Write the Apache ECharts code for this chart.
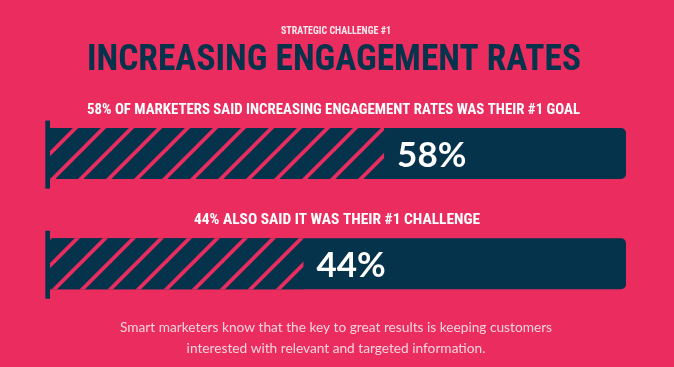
<!DOCTYPE html>
<html>
<head>
<meta charset="utf-8">
<script src="https://cdn.jsdelivr.net/npm/echarts@6/dist/echarts.min.js"></script>
<style>
  html, body { margin: 0; padding: 0; background: #EA2C5F; }
  #chart { width: 674px; height: 367px; }
</style>
</head>
<body>
<div id="chart"></div>
<script>
// ---- data ----
const categories = ['Goal', 'Challenge'];
const values = [58, 44];
const kicker = 'STRATEGIC CHALLENGE #1';
const headline = 'INCREASING ENGAGEMENT RATES';
const barHeadings = [
  '58% OF MARKETERS SAID INCREASING ENGAGEMENT RATES WAS THEIR #1 GOAL',
  '44% ALSO SAID IT WAS THEIR #1 CHALLENGE'
];
const footerLines = [
  'Smart marketers know that the key to great results is keeping customers',
  'interested with relevant and targeted information.'
];

// ---- styles ----
const PINK = '#EA2C5F';
const NAVY = '#06334C';
const CONDENSED = "'Roboto Condensed', 'DejaVu Sans Condensed', sans-serif";

// hatch pattern
function makeHatch() {
  const c = document.createElement('canvas');
  c.width = 28; c.height = 28;
  const g = c.getContext('2d');
  g.fillStyle = NAVY;
  g.fillRect(0, 0, 28, 28);
  g.strokeStyle = PINK;
  g.lineWidth = 3.8;
  [7.6, 35.6].forEach(k => {
    g.beginPath();
    g.moveTo(-12, k + 12);
    g.lineTo(k + 12, -12);
    g.stroke();
  });
  return c;
}

// measure to condense text horizontally
const mctx = document.createElement('canvas').getContext('2d');
function condensedText(text, cx, cy, size, targetWidth, fill) {
  const font = 'bold ' + size + 'px ' + CONDENSED;
  mctx.font = font;
  const w = mctx.measureText(text).width;
  return {
    type: 'text',
    x: cx, y: cy,
    scaleX: targetWidth / w,
    silent: true,
    style: {
      text: text,
      font: font,
      fill: fill,
      align: 'center',
      verticalAlign: 'middle'
    }
  };
}

const chart = echarts.init(document.getElementById('chart'), null, { renderer: 'canvas' });

const graphics = [
  condensedText(kicker, 336, 31, 10.5, 110, '#FCE9EE'),
  condensedText(headline, 334, 60.5, 36, 494, NAVY),
  condensedText(barHeadings[0], 333.5, 110.3, 14, 493, '#FFFFFF'),
  condensedText(barHeadings[1], 337, 220, 14, 286, '#FFFFFF')
];
footerLines.forEach((t, i) => {
  graphics.push({
    type: 'text',
    x: 336, y: 328 + i * 20.5,
    silent: true,
    style: {
      text: t,
      font: '13.7px Lato, sans-serif',
      fill: '#F9D4DD',
      align: 'center',
      verticalAlign: 'middle'
    }
  });
});

chart.setOption({
  backgroundColor: PINK,
  animation: false,
  grid: { left: 50, right: 48, top: 98.5, bottom: 48.2 },
  xAxis: { type: 'value', min: 0, max: 100, show: false },
  yAxis: { type: 'category', data: categories, inverse: true, show: false },
  graphic: graphics,
  series: [
    {
      type: 'bar',
      barWidth: 51,
      showBackground: true,
      backgroundStyle: { color: NAVY, borderRadius: [0, 5, 5, 0], opacity: 1 },
      itemStyle: { color: { image: makeHatch(), repeat: 'repeat' } },
      label: {
        show: true,
        position: 'right',
        distance: 13,
        formatter: '{v|{c}%}',
        offset: [0, 2],
        rich: {
          v: {
            color: '#FFFFFF',
            fontFamily: 'Lato',
            fontSize: 35,
            fontWeight: 'bold'
          }
        }
      },
      data: values,
      silent: true
    },
    {
      type: 'custom',
      silent: true,
      data: categories.map((c, i) => [0, i]),
      encode: { x: 0, y: 1 },
      renderItem: function (params, api) {
        const p = api.coord([api.value(0), api.value(1)]);
        return {
          type: 'rect',
          shape: { x: p[0] - 4.7, y: p[1] - 33, width: 4.7, height: 68 },
          style: { fill: NAVY }
        };
      }
    }
  ]
});
</script>
</body>
</html>
